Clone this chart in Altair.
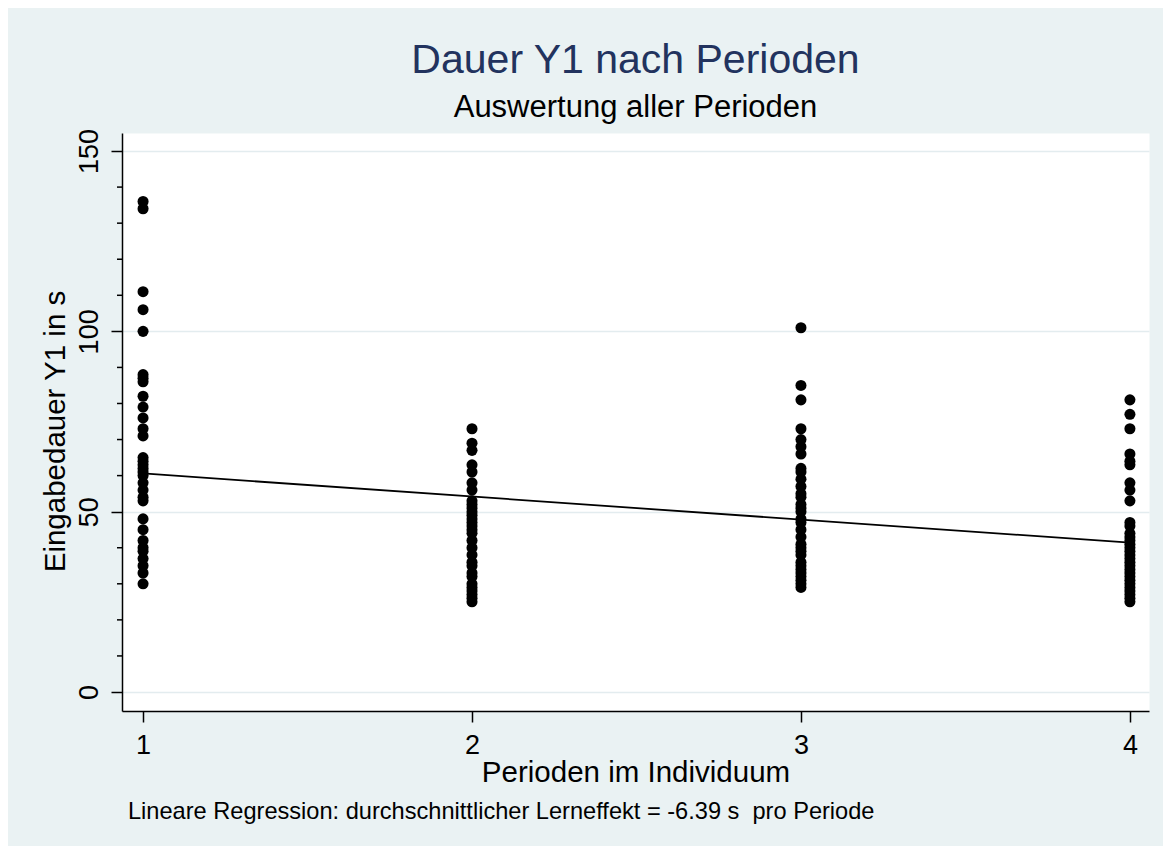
import altair as alt
import pandas as pd

# ---- data ----
perioden = [1, 2, 3, 4]
periode_1 = [136, 134, 111, 106, 100, 88, 87, 86, 82, 79, 76, 73, 71, 65, 64, 63, 62, 61, 60,
             58, 56, 54, 53, 48, 45, 42, 40, 39, 37, 35, 33, 30]
periode_2 = [73, 69, 67, 63, 61, 58, 56, 53, 52, 51, 50, 49, 48, 47, 46, 45, 44, 42, 40, 38,
             36, 35, 33, 32, 30, 29, 28, 27, 26, 25]
periode_3 = [101, 85, 81, 73, 70, 68, 66, 62, 61, 59, 57, 55, 54, 52, 51, 50, 48, 47, 45, 43,
             41, 40, 39, 38, 36, 35, 34, 33, 32, 31, 30, 29]
periode_4 = [81, 77, 73, 66, 64, 63, 58, 56, 53, 47, 46, 44, 43, 42, 41, 40, 39, 38, 37, 36,
             35, 34, 33, 32, 31, 30, 29, 28, 27, 26, 25]
reg_x = [1, 4]
reg_y = [60.6, 41.4]
y_major = [0, 50, 100, 150]
y_minor = [10, 20, 30, 40, 60, 70, 80, 90, 110, 120, 130, 140]
y_title = "Eingabedauer Y1 in s"
footer_text = "Lineare Regression: durchschnittlicher Lerneffekt = -6.39 s\u00a0 pro Periode"

rows = []
for p, vals in zip(perioden, [periode_1, periode_2, periode_3, periode_4]):
    for v in vals:
        rows.append({"periode": p, "dauer": v})
points_df = pd.DataFrame(rows)
reg_df = pd.DataFrame({"periode": reg_x, "dauer": reg_y})
minor_df = pd.DataFrame({"dauer": y_minor})
footer_df = pd.DataFrame({"text": [footer_text]})

FONT = "Liberation Sans"
x_scale = alt.Scale(domain=[0.936, 4.058], nice=False, zero=False)
y_scale = alt.Scale(domain=[-5.27, 155], nice=False, zero=False)

x_axis = alt.Axis(
    values=perioden, format="d", title="Perioden im Individuum", grid=False,
    tickSize=11, tickWidth=1.5, tickColor="black",
    domainColor="black", domainWidth=1.5,
    labelFontSize=27, labelFont=FONT, labelColor="black", labelPadding=10, labelFlush=False,
    titleFontSize=29.5, titleFont=FONT, titleColor="black", titleFontWeight="normal", titlePadding=0,
)
y_axis = alt.Axis(
    values=y_major, title=y_title, format="d",
    labelAngle=270, labelAlign="center", labelBaseline="bottom",
    labelFontSize=27, labelFont=FONT, labelColor="black", labelPadding=8,
    labelFlush=False, labelOverlap=False,
    tickSize=11, tickWidth=1.5, tickColor="black",
    domainColor="black", domainWidth=1.5,
    grid=True, gridColor="#e3ecef", gridWidth=1.5,
    titleFontSize=29.5, titleFont=FONT, titleColor="black", titleFontWeight="normal",
    titlePadding=5, titleY=298,
)

pts = alt.Chart(points_df).mark_circle(size=122, color="black", opacity=1).encode(
    x=alt.X("periode:Q", scale=x_scale, axis=x_axis),
    y=alt.Y("dauer:Q", scale=y_scale, axis=y_axis),
)
line = alt.Chart(reg_df).mark_line(color="black", strokeWidth=1.8).encode(
    x=alt.X("periode:Q", scale=x_scale),
    y=alt.Y("dauer:Q", scale=y_scale),
)
# minor ticks of the y axis (every 10 s), drawn just left of the axis line
minor = alt.Chart(minor_df).mark_rule(color="black", strokeWidth=1.5).encode(
    y=alt.Y("dauer:Q", scale=y_scale),
    x=alt.value(-5), x2=alt.value(0),
)
footer = alt.Chart(footer_df).mark_text(
    align="left", baseline="alphabetic", fontSize=23.6, font=FONT, color="black"
).encode(x=alt.value(6), y=alt.value(686), text="text:N")

chart = alt.layer(pts, line, minor, footer).properties(
    width=1027, height=578,
    autosize=alt.AutoSizeParams(type="none"),
    padding={"left": 114, "top": 125, "right": 14, "bottom": 135},
    background="#eaf2f3",
    title=alt.TitleParams(
        text="Dauer Y1 nach Perioden", subtitle="Auswertung aller Perioden",
        font=FONT, subtitleFont=FONT, fontSize=41, subtitleFontSize=31,
        fontWeight="normal", subtitleFontWeight="normal",
        color="#22335e", subtitleColor="black",
        anchor="middle", frame="group", offset=5, subtitlePadding=11,
    ),
).configure_view(fill="white", strokeOpacity=0)

chart.save("out.html", embed_options={"renderer": "svg", "actions": False})
